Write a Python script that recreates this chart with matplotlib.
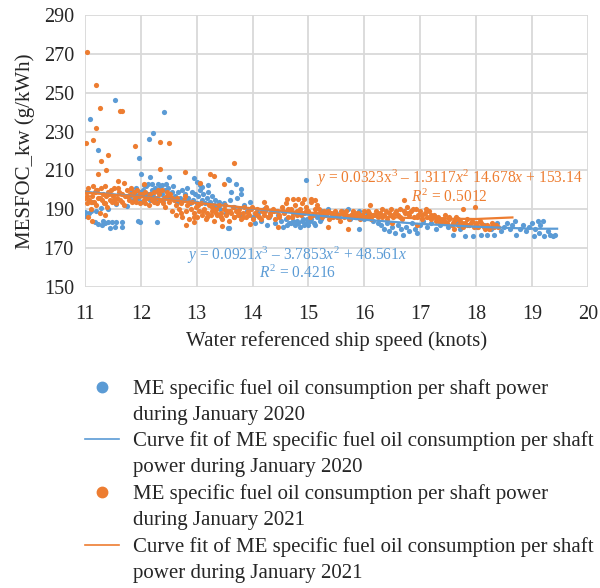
import matplotlib.pyplot as plt
import numpy as np
from matplotlib.lines import Line2D

plt.rcParams['font.family'] = 'Liberation Serif'
plt.rcParams['mathtext.fontset'] = 'custom'
plt.rcParams['mathtext.rm'] = 'Liberation Serif'
plt.rcParams['mathtext.it'] = 'Liberation Serif:italic'

BLUE = '#5B9BD5'
ORANGE = '#ED7D31'

# January 2020 (blue) -- speed (knots), MESFOC_kw (g/kWh)
blue_low_x = [11.00, 11.00, 11.10, 11.20, 11.18, 11.30, 11.35, 11.41, 11.45, 11.49, 11.56, 11.66, 11.33,
              11.66, 11.53, 11.24, 11.28, 11.08, 11.94, 11.98, 12.28, 13.56, 11.13, 11.55, 11.42, 11.75]
blue_low_y = [188.8, 186.8, 189.0, 189.3, 183.5, 181.8, 182.8, 183.7, 180.2, 183.3, 183.5, 183.3, 183.8,
              180.7, 180.8, 182.6, 190.5, 188.0, 184.0, 183.2, 183.7, 180.3, 194.0, 192.6, 190.2, 191.5]

blue_out_x = [11.53, 11.09, 12.42, 11.23, 12.22, 12.15, 11.97, 12.01, 12.16, 12.50, 12.95, 13.20, 13.56,
              14.96, 13.57, 13.61, 13.80, 13.57, 15.90, 13.80, 13.70, 13.00, 13.05, 13.10]
blue_out_y = [246.1, 236.5, 240.1, 220.3, 229.1, 226.4, 216.5, 208.3, 206.4, 206.8, 205.9, 202.5, 205.4,
              205.2, 205.2, 198.9, 198.0, 180.4, 179.7, 200.5, 203.0, 204.0, 202.3, 201.5]

blue_band_x = [11.80, 11.83, 11.86, 11.89, 11.92, 11.95, 11.98, 12.01, 12.04, 12.07,
               12.10, 12.13, 12.16, 12.19, 12.22, 12.25, 12.28, 12.31, 12.34, 12.37,
               12.40, 12.43, 12.46, 12.49, 12.52, 12.55, 12.58, 12.61, 12.64, 12.67,
               12.70, 12.73, 12.76, 12.79, 12.82, 12.85, 12.88, 12.91, 12.94, 12.97,
               13.00, 13.03, 13.06, 13.09, 13.12, 13.15, 13.18, 13.21, 13.24, 13.27,
               13.30, 13.33, 13.36, 13.39, 12.05, 12.12, 12.20, 12.30, 12.38, 12.45,
               13.42, 13.48, 13.53, 13.60, 13.66, 13.72, 13.78, 13.85, 13.90, 13.96,
               14.00, 14.05, 14.10, 14.15, 14.20, 14.25, 14.30, 14.35, 14.40, 14.45,
               14.50, 14.55, 14.60, 14.65, 14.70, 14.75, 14.80, 14.85, 14.90, 14.95,
               15.00, 15.05, 15.10, 15.15, 15.20, 15.25, 15.30, 15.35, 15.40, 15.45,
               14.62, 14.72, 14.82, 14.92, 15.02, 15.12, 15.22, 14.88, 14.98, 14.68,
               15.50, 15.55, 15.60, 15.65, 15.70, 15.75, 15.80, 15.85, 15.90, 15.95,
               16.00, 16.05, 16.10, 16.15, 16.20, 16.25,
               16.30, 16.35, 16.40, 16.45, 16.50, 16.55, 16.60, 16.65, 16.70, 16.75,
               16.80, 16.85, 16.90, 16.95, 17.00,
               17.05, 17.12, 17.20, 17.28, 17.35, 17.42, 17.50, 17.58, 17.65, 17.72, 17.80, 17.88, 17.95,
               18.02, 18.08, 18.14, 18.20, 18.26, 18.32, 18.38, 18.45, 18.50, 18.55,
               18.60, 18.65, 18.70, 18.72, 18.78, 18.84, 18.90, 18.95, 19.00, 19.03,
               19.06, 19.10, 19.12, 19.15, 19.20, 19.22, 19.28, 19.32, 19.38, 19.42]
blue_band_y = [197, 200, 195, 198, 201, 196, 199, 194, 200, 197,
               202, 198, 195, 200, 197, 201, 196, 199, 202, 198,
               195, 200, 197, 201, 196, 199, 202, 197, 194, 199,
               196, 200, 195, 198, 201, 196, 193, 199, 195, 198,
               193, 197, 200, 195, 198, 193, 196, 199, 194, 197,
               192, 195, 191, 194, 202.5, 203, 202.8, 203.2, 202.4, 203,
               190, 193, 188, 195, 191, 196, 187, 192, 189, 194,
               186, 183, 188, 184, 190, 182, 186, 189, 183, 187,
               184, 181, 185, 183, 186, 182, 184, 181, 185, 183,
               182, 185, 183, 186, 184, 189, 187, 190, 186, 188,
               182, 184, 183, 182, 184, 182, 185, 184, 185, 183,
               188, 186, 189, 187, 190, 185, 188, 186, 189, 187,
               185, 188, 186, 184, 187, 183,
               182, 180, 183, 179, 181, 178, 182, 180, 177, 181,
               179, 183, 180, 178, 182,
               184, 181, 183, 180, 182, 184, 181, 177, 183, 180, 176.5, 182, 176.5,
               181, 177, 182, 176.8, 180, 177, 183, 179, 181, 183,
               180, 182, 184, 177, 180, 182, 179, 181, 183, 176.5,
               180, 184, 178, 182, 183.8, 176, 179, 177, 176, 177]

# January 2021 (orange)
orange_out_x = [11.04, 11.19, 11.27, 11.63, 11.67, 11.20, 11.02, 11.14, 11.42, 11.28, 11.38, 11.23, 11.90,
                12.35, 12.50, 12.35, 12.79, 13.23, 13.49, 11.59, 13.67, 16.71, 17.98, 17.76,
                14.62, 14.72, 14.82, 14.92, 15.05, 15.12,
                11.06, 11.12, 11.35, 12.80, 12.95, 13.45, 13.95, 14.45, 15.35, 15.70, 16.50, 16.95, 17.60,
                13.30, 12.05, 11.70, 13.05, 14.20, 16.10]
orange_out_y = [271.2, 254.1, 242.1, 240.8, 240.8, 232.0, 224.0, 225.6, 217.9, 215.0, 210.0, 208.1, 222.5,
                224.4, 224.0, 210.5, 209.0, 208.1, 202.8, 204.5, 213.9, 194.6, 191.2, 190.0,
                195.2, 195.5, 195.5, 195.2, 195.3, 195.0,
                186.0, 184.0, 187.0, 182.0, 183.5, 181.5, 182.5, 181.0, 181.0, 180.0, 183.0, 182.0, 180.0,
                207.0, 203.0, 203.5, 203.5, 194.0, 192.0]

orange_band_x = [11.00, 11.02, 11.04, 11.06, 11.08, 11.10, 11.12, 11.14, 11.16, 11.18,
                 11.20, 11.22, 11.24, 11.26, 11.28, 11.30, 11.32, 11.34, 11.36, 11.38,
                 11.40, 11.42, 11.44, 11.46, 11.48, 11.50, 11.52, 11.55, 11.58, 11.60,
                 11.63, 11.66, 11.69, 11.72, 11.75, 11.78, 11.81, 11.84, 11.87, 11.90,
                 11.93, 11.96, 11.99, 12.02, 12.05, 12.08, 12.11, 12.14, 12.17, 12.20,
                 12.23, 12.26, 12.29, 12.32, 12.35, 12.38, 12.41, 12.44, 12.47, 12.50,
                 12.53, 12.56, 12.59, 12.62, 12.65, 12.68, 12.71, 12.74, 12.77, 12.80,
                 12.83, 12.86, 12.89, 12.92, 12.95, 12.98, 13.01, 13.04, 13.07, 13.10,
                 13.13, 13.16, 13.19, 13.22, 13.25, 13.28, 13.31, 13.34, 13.37, 13.40,
                 13.43, 13.46, 13.49, 13.52, 13.55, 13.58, 13.61, 13.64, 13.67, 13.70,
                 13.73, 13.76, 13.79, 13.82, 13.85, 13.88, 13.91, 13.94, 13.97, 14.00,
                 14.04, 14.08, 14.12, 14.16, 14.20, 14.24, 14.28, 14.32, 14.36, 14.40,
                 14.44, 14.48, 14.52, 14.56, 14.60, 14.64, 14.68, 14.72, 14.76, 14.80,
                 14.84, 14.88, 14.92, 14.96, 15.00, 15.04, 15.08, 15.12, 15.16, 15.20,
                 15.24, 15.28, 15.32, 15.36, 15.40, 15.44, 15.48, 15.52, 15.56, 15.60,
                 15.64, 15.68, 15.72, 15.76, 15.80, 15.84, 15.88, 15.92, 15.96, 16.00,
                 16.04, 16.08, 16.12, 16.16, 16.20, 16.24, 16.28, 16.32, 16.36, 16.40,
                 16.44, 16.48, 16.52, 16.56, 16.60, 16.64, 16.68, 16.72, 16.76, 16.80,
                 16.84, 16.88, 16.92, 16.96, 17.00, 17.04, 17.08, 17.12, 17.16, 17.20,
                 17.24, 17.28, 17.32, 17.36, 17.40, 17.44, 17.48, 17.52, 17.56, 17.60,
                 17.64, 17.68, 17.72, 17.76, 17.80, 17.84, 17.88, 17.92, 17.96, 18.00,
                 18.04, 18.08, 18.12, 18.16, 18.20, 18.24, 18.28, 18.32, 18.36, 18.40,
                 11.03, 11.11, 11.19, 11.27, 11.35, 11.43, 11.51, 11.59, 11.67, 11.75,
                 11.83, 11.91, 11.99, 12.07, 12.15, 12.23, 12.31, 12.39, 12.47, 12.55,
                 12.63, 12.71, 12.79, 12.87, 12.95, 13.03, 13.11, 13.19, 13.27, 13.35,
                 13.43, 13.51, 13.59, 13.67, 13.75, 13.83, 13.91, 13.99, 14.07, 14.15,
                 14.23, 14.31, 14.39, 14.47, 14.55, 14.63, 14.71, 14.79, 14.87, 14.95,
                 15.03, 15.11, 15.19, 15.27, 15.35, 15.43, 15.51, 15.59, 15.67, 15.75,
                 15.83, 15.91, 15.99, 16.07, 16.15, 16.23, 16.31, 16.39, 16.47, 16.55,
                 16.63, 16.71, 16.79, 16.87, 16.95, 17.03, 17.11, 17.19, 17.27, 17.35,
                 17.43, 17.51, 17.59, 17.67, 17.75, 17.83, 17.91, 17.99, 18.07, 18.15,
                 18.23, 18.31]
orange_band_y = [196, 199, 193, 201, 195, 190, 197, 202, 194, 199,
                 192, 200, 196, 188, 201, 195, 198, 193, 202, 197,
                 191, 199, 195, 200, 194, 197, 201, 193, 196, 199,
                 195, 198, 192, 197, 200, 195, 198, 194, 199, 196,
                 200, 197, 193, 198, 195, 199, 196, 192, 198, 195,
                 199, 196, 193, 198, 195, 200, 196, 191, 197, 194,
                 198, 189, 195, 187, 196, 190, 193, 186, 195, 189,
                 192, 185, 190, 194, 188, 191, 186, 189, 193, 187,
                 190, 185, 188, 192, 187, 189, 184, 190, 187, 192,
                 188, 185, 190, 187, 189, 184, 188, 191, 186, 189,
                 187, 190, 185, 188, 191, 186, 189, 187, 190, 185,
                 188, 190, 186, 189, 187, 191, 186, 188, 190, 185,
                 189, 187, 191, 188, 193, 186, 190, 188, 192, 187,
                 190, 193, 188, 191, 189, 194, 187, 190, 192, 188,
                 186, 189, 187, 185, 188, 186, 189, 187, 184, 188,
                 186, 189, 185, 187, 189, 186, 188, 185, 187, 189,
                 186, 188, 185, 187, 189, 186, 188, 190, 187, 185,
                 188, 190, 186, 189, 187, 190, 185, 188, 191, 187,
                 189, 186, 190, 187, 189, 185, 188, 186, 189, 185,
                 187, 184, 186, 183, 185, 187, 183, 185, 182, 184,
                 186, 182, 184, 181, 183, 185, 182, 184, 181, 183,
                 181, 183, 182, 180, 182, 181, 183, 181, 182, 181,
                 197, 194, 200, 196, 193, 198, 195, 201, 194, 197,
                 201, 194, 198, 193, 197, 194, 200, 193, 199, 196,
                 192, 188, 197, 194, 186, 192, 189, 186, 191, 188,
                 186, 192, 189, 186, 188, 186, 188, 191, 187, 185,
                 189, 187, 189, 186, 189, 190, 186, 189, 187, 189,
                 186, 188, 190, 187, 189, 187, 186, 189, 187, 186,
                 188, 187, 186, 189, 187, 188, 186, 189, 187, 188,
                 186, 189, 188, 190, 186, 187, 190, 187, 186, 185,
                 184, 186, 183, 185, 183, 182, 183, 182, 184, 181,
                 180, 182]

# trend lines
fit_2020_x = [11.0, 12.0, 13.0, 14.0, 15.0, 16.0, 17.0, 18.0, 19.0, 19.45]
fit_2020_y = [199.0, 196.5, 193.5, 190.3, 187.2, 184.6, 182.5, 181.0, 180.0, 180.0]
fit_2021_x = [11.0, 12.0, 13.0, 14.0, 15.0, 16.0, 17.0, 18.0, 18.65]
fit_2021_y = [198.6, 196.3, 193.3, 190.5, 188.3, 186.5, 185.3, 185.0, 185.8]

legend_entries = [
    ('dot', BLUE, ['ME specific fuel oil consumption per shaft power', 'during January 2020']),
    ('line', BLUE, ['Curve fit of ME specific fuel oil consumption per shaft', 'power during January 2020']),
    ('dot', ORANGE, ['ME specific fuel oil consumption per shaft power', 'during January 2021']),
    ('line', ORANGE, ['Curve fit of ME specific fuel oil consumption per shaft', 'power during January 2021']),
]

W, H = 600, 588
fig = plt.figure(figsize=(6, 5.88), dpi=100)
ax = fig.add_axes([0.1417, 0.5119, 0.838, 0.4626])

bx = blue_band_x + blue_low_x + blue_out_x
by = blue_band_y + blue_low_y + blue_out_y
ox = orange_band_x + orange_out_x
oy = orange_band_y + orange_out_y
ax.scatter(bx, by, s=14, color=BLUE, linewidths=0, zorder=2)
ax.scatter(ox, oy, s=14, color=ORANGE, linewidths=0, zorder=3)
ax.plot(fit_2020_x, fit_2020_y, color=BLUE, lw=1.6, zorder=4)
ax.plot(fit_2021_x, fit_2021_y, color=ORANGE, lw=1.6, zorder=4)

ax.set_xlim(11, 20)
ax.set_ylim(150, 290)
ax.set_xticks(np.arange(11, 21, 1))
ax.set_yticks(np.arange(150, 291, 20))
ax.grid(True, color='#D9D9D9', lw=1.3)
ax.set_axisbelow(True)
for sp in ax.spines.values():
    sp.set_visible(False)
ax.tick_params(length=0, labelsize=14.5, colors='#262626')
ax.tick_params(axis='y', pad=8)
ax.tick_params(axis='x', pad=13)
ax.set_xlabel('Water referenced ship speed (knots)', fontsize=15, color='#262626', labelpad=5)
ax.set_ylabel('MESFOC_kw (g/kWh)', fontsize=15, color='#262626', labelpad=6)

ax.text(17.52, 206.1, r'$y$ = 0.0323x$^3$ – 1.3117$x^2$ 14.678$x$ + 153.14',
        color=ORANGE, fontsize=11.2, ha='center', va='center')
ax.text(17.52, 196.3, r'$R^2$ = 0.5012', color=ORANGE, fontsize=11.2, ha='center', va='center')
ax.text(14.80, 166.5, r'$y$ = 0.0921$x^3$ – 3.7853$x^2$ + 48.561$x$',
        color=BLUE, fontsize=11.2, ha='center', va='center')
ax.text(14.80, 157.0, r'$R^2$ = 0.4216', color=BLUE, fontsize=11.2, ha='center', va='center')

# legend below the plot, symbol aligned with the first text line
entry_top = [387, 439, 492, 545]
line_gap = 26
for (kind, col, lines), ytop in zip(legend_entries, entry_top):
    yf = 1 - ytop / H
    if kind == 'dot':
        fig.add_artist(Line2D([102 / W], [yf], ls='', marker='o', ms=7.5, color=col,
                              transform=fig.transFigure))
    else:
        fig.add_artist(Line2D([85 / W, 119 / W], [yf, yf], lw=1.2, color=col,
                              transform=fig.transFigure))
    for j, s in enumerate(lines):
        fig.text(133 / W, 1 - (ytop + j * line_gap) / H, s, fontsize=15, color='#262626',
                 ha='left', va='center_baseline')

fig.savefig('out.png', dpi=100)
